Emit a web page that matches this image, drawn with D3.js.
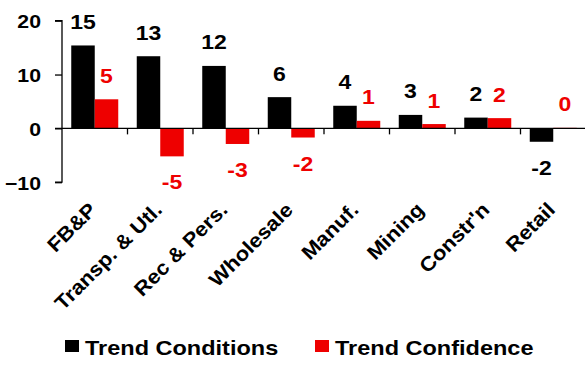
<!DOCTYPE html>
<html>
<head>
<meta charset="utf-8">
<script src="https://cdn.jsdelivr.net/npm/d3@7"></script>
<style>
  html, body { margin: 0; padding: 0; background: #fff; }
  svg { display: block; }
  text { font-family: "Liberation Sans", Arial, sans-serif; font-weight: bold; }
</style>
</head>
<body>
<svg id="chart" width="585" height="370"></svg>
<script>
// Sector trend readings
const categories = ["FB&P", "Transp. & Utl.", "Rec & Pers.", "Wholesale", "Manuf.", "Mining", "Constr'n", "Retail"];
const trendConditions = [15.4, 13.4, 11.6, 5.8, 4.2, 2.5, 2.0, -2.49];
const trendConfidence = [5.4, -5.2, -2.9, -1.7, 1.4, 0.8, 1.9, 0.1];
const seriesNames = ["Trend Conditions", "Trend Confidence"];
const seriesColors = ["#000000", "#ee0000"];
const yTicks = [-10, 0, 10, 20];

const SX = 1.15; // wide lettering
const svg = d3.select("#chart");

const x = d3.scaleBand().domain(categories).range([62, 586]).paddingInner(0).paddingOuter(0);
const y = d3.scaleLinear().domain([-10, 20]).range([182.2, 20.7]);
const barW = 23.5;
const sub = d3.scaleBand().domain(seriesNames).range([-barW, barW]);

function placeText(sel, tx, ty, rot, sx) {
  sel.attr("transform", (d, i) =>
    `translate(${tx(d, i)},${ty(d, i)})${rot ? ` rotate(${rot})` : ""} scale(${sx || SX},1)`);
}

// bars
const series = [trendConditions, trendConfidence];
series.forEach((vals, s) => {
  svg.append("g").selectAll("rect")
    .data(vals)
    .join("rect")
    .attr("x", (d, i) => x(categories[i]) + x.bandwidth() / 2 + sub(seriesNames[s]))
    .attr("width", sub.bandwidth())
    .attr("y", d => y(Math.max(0, d)))
    .attr("height", d => Math.abs(y(d) - y(0)))
    .attr("fill", seriesColors[s]);
});

// y axis
const yAxis = svg.append("g")
  .attr("transform", "translate(62,0)")
  .call(d3.axisLeft(y).tickValues(yTicks).tickSize(7).tickPadding(0).tickFormat(d3.format("d")));
yAxis.select(".domain").attr("stroke", "#000").attr("stroke-width", 1.3).attr("d", `M-7,${y(20)}H0V${y(-10)}H-7`);
yAxis.selectAll(".tick line").attr("stroke", "#000").attr("stroke-width", 1.3);
yAxis.selectAll(".tick text")
  .attr("x", null).attr("dy", null)
  .attr("font-size", 18.5).attr("fill", "#000").attr("text-anchor", "end")
  .attr("transform", `translate(-21,7) scale(${SX},1)`);

// x axis: baseline with ticks at category boundaries
const xAxis = svg.append("g")
  .attr("transform", `translate(0,${y(0)})`)
  .call(d3.axisBottom(x).tickSize(0).tickFormat(""));
xAxis.select(".domain").attr("stroke", "#000").attr("stroke-width", 1.3).attr("d", `M55,0H585`);
xAxis.selectAll(".tick line").remove();
xAxis.append("g").selectAll("line")
  .data(categories.slice(1))
  .join("line")
  .attr("x1", d => x(d)).attr("x2", d => x(d))
  .attr("y1", 0).attr("y2", 6)
  .attr("stroke", "#000").attr("stroke-width", 1.3);

// rotated category labels
svg.append("g").selectAll("text")
  .data(categories)
  .join("text")
  .attr("text-anchor", "end")
  .attr("font-size", 20)
  .attr("fill", "#000")
  .text(d => d)
  .call(placeText, d => x(d) + x.bandwidth() / 2 + 3, () => 211, -45, 1.1);

// value labels
series.forEach((vals, s) => {
  svg.append("g").selectAll("text")
    .data(vals)
    .join("text")
    .attr("text-anchor", "middle")
    .attr("font-size", 20)
    .attr("fill", seriesColors[s])
    .text(d => String(Math.round(d)))
    .call(placeText,
      (d, i) => x(categories[i]) + x.bandwidth() / 2 + sub(seriesNames[s]) + sub.bandwidth() / 2,
      d => d >= 0 ? y(d) - 16.5 : y(d) + 33);
});

// legend
const legendX = [65, 315];
const lg = svg.append("g");
seriesNames.forEach((name, s) => {
  lg.append("rect")
    .attr("x", legendX[s]).attr("y", 340)
    .attr("width", 14).attr("height", 12)
    .attr("fill", seriesColors[s]);
  lg.append("text")
    .attr("font-size", 21)
    .attr("fill", "#000")
    .attr("transform", `translate(${legendX[s] + 20},354.5) scale(1.12,1)`)
    .text(name);
});
</script>
</body>
</html>
